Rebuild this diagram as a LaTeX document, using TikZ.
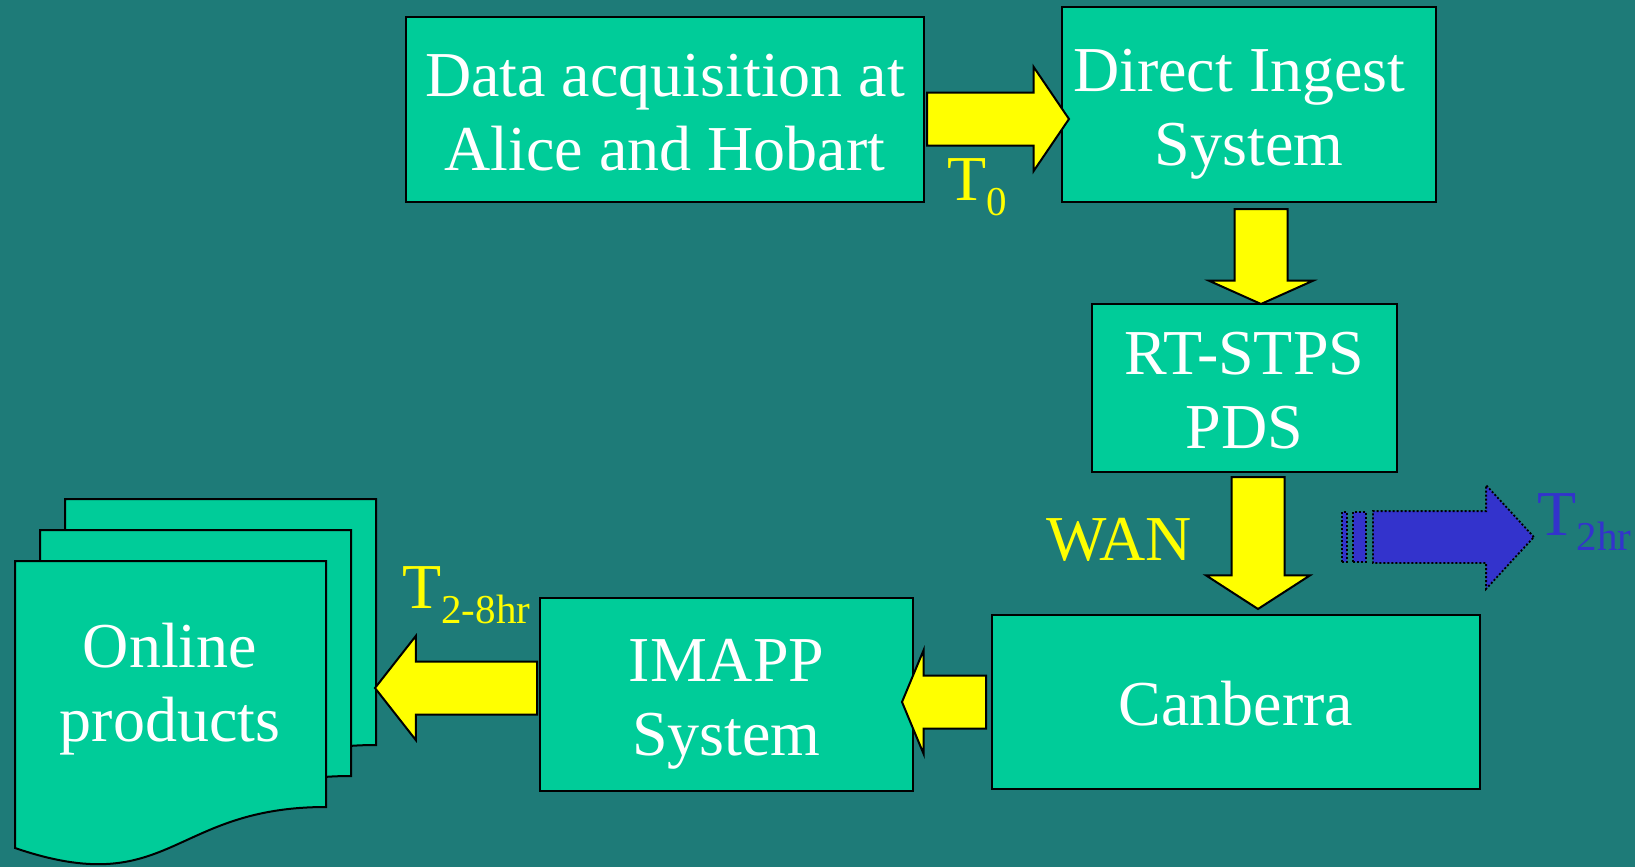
\documentclass[tikz,border=0pt]{standalone}
\usepackage{fontspec}
\setmainfont{Liberation Serif}
\usetikzlibrary{shapes.arrows}

\definecolor{slidebg}{RGB}{30,123,120}
\definecolor{boxgreen}{RGB}{0,204,153}
\definecolor{flowyellow}{RGB}{255,255,0}
\definecolor{laterblue}{RGB}{51,51,204}
\newcommand{\lowsub}[1]{\raisebox{-7.5pt}{\fontsize{20.5}{20.5}\selectfont #1}}
\newcommand{\topstrut}{\rule{0pt}{31.5pt}}
\newcommand{\botstrut}{\rule[-8pt]{0pt}{0pt}}

\begin{document}
\begin{tikzpicture}[x=0.5pt,y=-0.5pt]
		\tikzstyle{unit}=[draw=black,line width=1pt,fill=boxgreen,text=white,align=center,inner sep=0pt,font=\fontsize{32}{37}\selectfont]
		\tikzstyle{page}=[draw=black,line width=1pt,fill=boxgreen]
		\tikzstyle{flow}=[single arrow,draw=black,line width=1pt,fill=flowyellow,inner sep=12.75pt,minimum width=51pt,single arrow head extend=12.75pt,anchor=tail]
		\tikzstyle{later}=[draw=black,line width=0.9pt,dash pattern=on 1pt off 1pt,fill=laterblue,inner sep=0pt]
		\tikzstyle{timing}=[text=flowyellow,inner sep=0pt,anchor=base west,font=\fontsize{32}{37}\selectfont]
		
		\fill[slidebg] (0,0) rectangle (1635,867);
		\useasboundingbox (0,0) rectangle (1635,867);
		
		\node[unit,minimum width=259pt,minimum height=92.5pt](acq) at (665,109.5){\topstrut Data acquisition at\\Alice and Hobart\botstrut};
		\node[unit,minimum width=187pt,minimum height=97.5pt](dis) at (1249,104.5){\topstrut Direct Ingest\hspace*{.3em}\\System\botstrut};
		\node[unit,minimum width=152.5pt,minimum height=84pt](rts) at (1244.5,388){\topstrut RT-STPS\\PDS\botstrut};
		\node[unit,minimum width=244pt,minimum height=87pt](can) at (1236,702){\topstrut Canberra\botstrut};
		\node[unit,minimum width=186.5pt,minimum height=96.5pt](ima) at (726.5,694.5){\topstrut IMAPP\\System\botstrut};
		
		% stack of output pages
		\foreach \px/\py in {65/499,40/530,15/561}{
			\begin{scope}[shift={(\px,\py)}]
				\draw[page] (0,0) -- (311,0) -- (311,246) .. controls (155.5,246) and (155.5,340) .. (0,287) -- cycle;
			\end{scope}
		}
		\node[text=white,align=center,inner sep=0pt,font=\fontsize{32}{37}\selectfont](onl) at (170,689){Online\\products};
		
		\node[flow,minimum height=71pt,single arrow tip angle=111.6](a0) at (926,119){};
		\node[flow,minimum height=47.5pt,single arrow tip angle=131.8,shape border rotate=270](a1) at (1261,208){};
		\node[flow,minimum height=66pt,single arrow tip angle=114.2,shape border rotate=270](a2) at (1258,476){};
		\node[flow,minimum height=42pt,single arrow tip angle=134.8,shape border rotate=180](a3) at (987,702){};
		\node[flow,minimum height=81pt,single arrow tip angle=103.8,shape border rotate=180](a4) at (538,688){};
		
		\node[later,rectangle,minimum width=2.5pt,minimum height=25pt](s1) at (1344.5,537){};
		\node[later,rectangle,minimum width=6.5pt,minimum height=25pt](s2) at (1359.5,537){};
		\node[later,single arrow,inner sep=12.5pt,minimum width=51pt,single arrow head extend=13pt,minimum height=80.5pt,single arrow tip angle=94.7,anchor=tail](a5) at (1372,537){};
		
		\node[timing](t0) at (947,200){T\lowsub{0}};
		\node[timing](wan) at (1046,560){WAN};
		\node[timing](t28) at (402,608){T\lowsub{2-8hr}};
		\node[timing,text=laterblue](t2) at (1537,535){T\lowsub{2hr}};
\end{tikzpicture}
\end{document}
